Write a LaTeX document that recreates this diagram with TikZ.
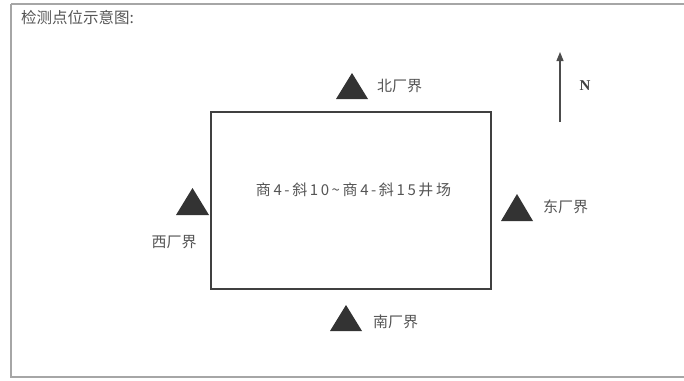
\documentclass[tikz,border=0pt]{standalone}
\usepackage{fontspec}
\newfontfamily\cjk{Noto Sans CJK SC}
\setmainfont{Liberation Serif}
\usetikzlibrary{arrows.meta}
\definecolor{txt}{HTML}{555555}
\definecolor{tri}{HTML}{333333}
\newcommand{\gp}{\hspace{2.6pt}}
\tikzset{
  lbl/.style={font=\cjk\fontsize{15}{17}\selectfont,text=txt,inner sep=0pt},
}
\begin{document}
\begin{tikzpicture}[x=1pt,y=-1pt]
\useasboundingbox (0,0) rectangle (684,380);
% outer frame
\draw[color=gray!70,line width=1.2pt] (11,4) -- (684,4);
\draw[color=gray!70,line width=1.2pt] (11,4) -- (11,377) -- (684,377);
\node[lbl,anchor=west,font=\cjk\fontsize{15.5}{17}\selectfont] (title) at (21,18) {检测点位示意图:};
% site rectangle
\node[draw=black!75,line width=1.1pt,minimum width=280pt,minimum height=177pt,inner sep=0pt] (site) at (351,200.5) {};
\node[lbl] (name) at (353.5,190) {商\gp 4\gp -\gp 斜\gp 1\gp 0\gp \textasciitilde\gp 商\gp 4\gp -\gp 斜\gp 1\gp 5\gp 井\gp 场};
% triangles
\fill[tri] (336,99) -- (352,73) -- (368,99) -- cycle;
\node[lbl,anchor=west] (ln) at (377,86) {北厂界};
\fill[tri] (176,215) -- (192.5,188) -- (209,215) -- cycle;
\node[lbl] (lw) at (174,242) {西厂界};
\fill[tri] (501,221) -- (517,194) -- (533,221) -- cycle;
\node[lbl,anchor=west] (le) at (543,207) {东厂界};
\fill[tri] (330,331) -- (346,305) -- (362,331) -- cycle;
\node[lbl,anchor=west] (ls) at (373,322) {南厂界};
% north arrow
\coordinate (nb) at (560,122);
\coordinate (nt) at (560,52);
\draw[color=black!70,line width=1.1pt,-{Triangle[length=9pt,width=7pt]}] (nb) -- (nt);
\node[font=\bfseries\fontsize{15}{17}\selectfont,text=black!75,inner sep=0pt] (N) at (585,86) {N};
\end{tikzpicture}
\end{document}
